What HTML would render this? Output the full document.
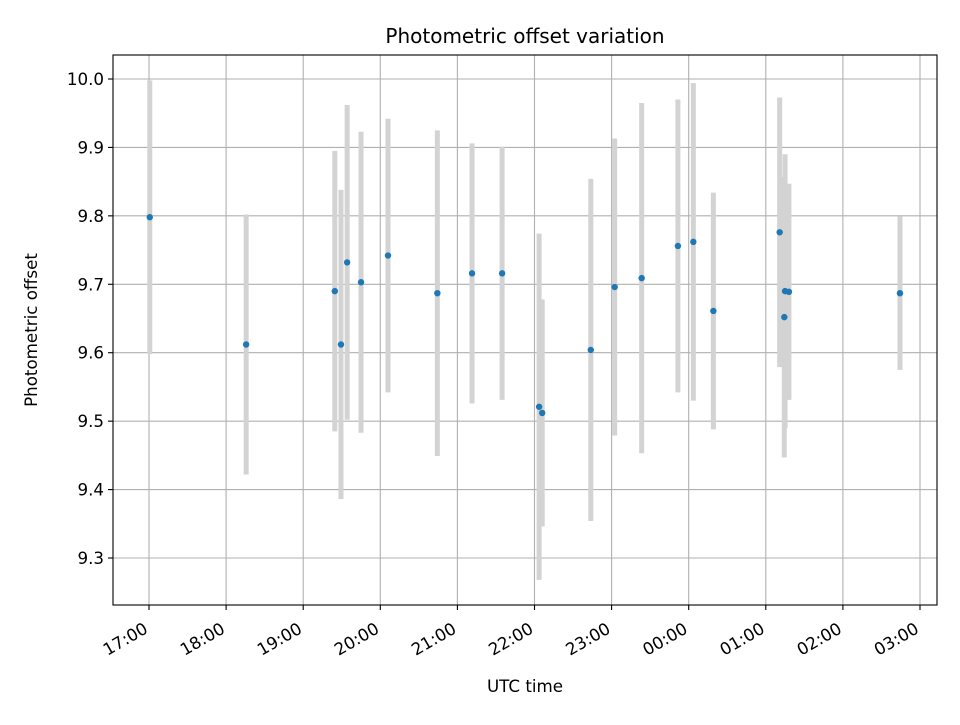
<!DOCTYPE html>
<html><head><meta charset="utf-8"><style>
body{margin:0;background:#fff;}
svg text{font-family:"DejaVu Sans","Liberation Sans",sans-serif;fill:#000;}
</style></head><body>
<svg id="chart" width="960" height="720" viewBox="0 0 960 720" xmlns="http://www.w3.org/2000/svg">
<rect x="0" y="0" width="960" height="720" fill="#fff"/>
<g id="grid"></g>
<g id="bars"></g>
<g id="points"></g>
<rect x="113" y="55" width="824" height="550" fill="none" stroke="#000" stroke-width="1.1"/>
<g id="xticks"></g>
<g id="yticks"></g>
<text x="525" y="43" font-size="20" text-anchor="middle">Photometric offset variation</text>
<text x="525" y="692" font-size="16.7" text-anchor="middle">UTC time</text>
<text x="37" y="330" font-size="16.7" text-anchor="middle" transform="rotate(-90 37 330)">Photometric offset</text>
</svg>
<script>
// hours since midnight of first day (24+ = next day)
const times = [17.01,18.26,19.41,19.49,19.57,19.75,20.10,20.74,21.19,21.58,22.06,22.10,22.73,23.04,23.39,23.86,24.06,24.32,25.18,25.24,25.25,25.30,26.74];
const offsets = [9.798,9.612,9.690,9.612,9.732,9.703,9.742,9.687,9.716,9.716,9.521,9.512,9.604,9.696,9.709,9.756,9.762,9.661,9.776,9.652,9.690,9.689,9.687];
const errors = [0.20,0.19,0.205,0.226,0.23,0.22,0.20,0.238,0.19,0.185,0.253,0.166,0.25,0.217,0.256,0.214,0.232,0.173,0.197,0.205,0.20,0.158,0.112];
const xTickHours = [17,18,19,20,21,22,23,24,25,26,27];
const xTickLabels = ["17:00","18:00","19:00","20:00","21:00","22:00","23:00","00:00","01:00","02:00","03:00"];
const yTicks = [9.3,9.4,9.5,9.6,9.7,9.8,9.9,10.0];
const yTickLabels = ["9.3","9.4","9.5","9.6","9.7","9.8","9.9","10.0"];

const NS="http://www.w3.org/2000/svg";
const X0=113,X1=937,Y0=55,Y1=605;
function xs(h){return 149+(h-17)*77.1;}
function ys(v){return 79+(10-v)*684.3;}
function mk(tag,attrs,parent){const e=document.createElementNS(NS,tag);for(const k in attrs)e.setAttribute(k,attrs[k]);parent.appendChild(e);return e;}
const grid=document.getElementById('grid'),bars=document.getElementById('bars'),pts=document.getElementById('points'),xt=document.getElementById('xticks'),yt=document.getElementById('yticks');
xTickHours.forEach((h,i)=>{
  const x=xs(h);
  const g=mk('line',{x1:x,x2:x,y1:Y0,y2:Y1,stroke:'#b0b0b0','stroke-width':1.1},grid);
  
  
  const t=mk('line',{x1:x,x2:x,y1:Y1,y2:Y1+5,stroke:'#000','stroke-width':1.1},xt);
  
  
  const lx=x,ly=632;
  const tx=mk('text',{x:lx,y:ly,'font-size':16.7,'text-anchor':'end',transform:`rotate(-30 ${lx} ${ly})`},xt);
  tx.textContent=xTickLabels[i];
  
  
});
yTicks.forEach((v,i)=>{
  const y=ys(v);
  const g=mk('line',{x1:X0,x2:X1,y1:y,y2:y,stroke:'#b0b0b0','stroke-width':1.1},grid);
  
  
  const t=mk('line',{x1:X0-5,x2:X0,y1:y,y2:y,stroke:'#000','stroke-width':1.1},yt);
  
  
  const tx=mk('text',{x:X0-9,y:y+6,'font-size':16.7,'text-anchor':'end'},yt);
  tx.textContent=yTickLabels[i];
  
  
});
times.forEach((h,i)=>{
  const x=xs(h);
  const b=mk('line',{x1:x,x2:x,y1:ys(offsets[i]+errors[i]),y2:ys(offsets[i]-errors[i]),stroke:'#d3d3d3','stroke-width':5},bars);
  
  
});
times.forEach((h,i)=>{
  const c=mk('circle',{cx:xs(h),cy:ys(offsets[i]),r:3.2,fill:'#1f77b4'},pts);
  
  
});
</script>
</body></html>
